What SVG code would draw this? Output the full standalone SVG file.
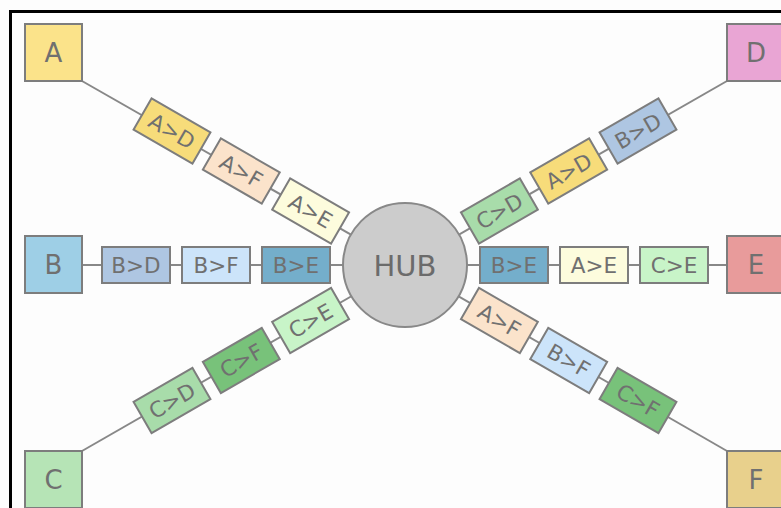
<svg xmlns="http://www.w3.org/2000/svg" width="781" height="508" viewBox="0 0 781 508">
  <defs>
    <style>
      .box { stroke: #7d7d7d; stroke-width: 2; }
      .wire { stroke: #888888; stroke-width: 2; fill: none; }
      .lbl { font-family: "DejaVu Sans", "Liberation Sans", sans-serif; font-size: 21.5px; fill: #707070; text-anchor: middle; }
      .big { font-family: "DejaVu Sans", "Liberation Sans", sans-serif; font-size: 26px; fill: #707070; text-anchor: middle; }
      .hub { font-family: "DejaVu Sans", "Liberation Sans", sans-serif; font-size: 29px; fill: #6b6b6b; text-anchor: middle; }
    </style>
  </defs>

  <!-- page background and frame -->
  <rect x="0" y="0" width="781" height="508" fill="#fdfdfd"/>
  <rect x="9" y="10" width="772" height="3" fill="#000"/>
  <rect x="9" y="10" width="3" height="498" fill="#000"/>

  <!-- spokes from the end stations to the hub -->
  <g id="connectors">
    <line class="wire" x1="82" y1="81" x2="405" y2="265.5"/>
    <line class="wire" x1="727" y1="81" x2="405" y2="265.5"/>
    <line class="wire" x1="82" y1="451" x2="405" y2="265.5"/>
    <line class="wire" x1="727" y1="451" x2="405" y2="265.5"/>
    <line class="wire" x1="82" y1="265" x2="405" y2="265"/>
    <line class="wire" x1="727" y1="265" x2="405" y2="265"/>
  </g>

  <!-- hub -->
  <g id="hub">
    <circle cx="405" cy="265" r="62" fill="#cccccc" stroke="#888888" stroke-width="2"/>
    <text class="hub" x="405" y="275.5">HUB</text>
  </g>

  <!-- end stations -->
  <g id="node-A">
    <rect class="box" x="25" y="24" width="57" height="57" fill="#fbe38a"/>
    <text class="big" x="53.5" y="62">A</text>
  </g>
  <g id="node-B">
    <rect class="box" x="25" y="236" width="57" height="57" fill="#9ecfe6"/>
    <text class="big" x="53.5" y="274">B</text>
  </g>
  <g id="node-C">
    <rect class="box" x="25" y="451" width="57" height="57" fill="#b6e4b6"/>
    <text class="big" x="53.5" y="489">C</text>
  </g>
  <g id="node-D">
    <rect class="box" x="727" y="24" width="57" height="57" fill="#e9a5d4"/>
    <text class="big" x="756" y="62">D</text>
  </g>
  <g id="node-E">
    <rect class="box" x="727" y="236" width="57" height="57" fill="#e89b9b"/>
    <text class="big" x="756" y="274">E</text>
  </g>
  <g id="node-F">
    <rect class="box" x="727" y="451" width="57" height="57" fill="#e8d08c"/>
    <text class="big" x="756" y="489">F</text>
  </g>

  <!-- left horizontal spoke -->
  <g id="B-D-left">
    <rect class="box" x="102" y="247" width="68" height="36" fill="#aec6e2"/>
    <text class="lbl" x="136" y="272.8">B&gt;D</text>
  </g>
  <g id="B-F-left">
    <rect class="box" x="182" y="247" width="68" height="36" fill="#cce4fa"/>
    <text class="lbl" x="216" y="272.8">B&gt;F</text>
  </g>
  <g id="B-E-left">
    <rect class="box" x="262" y="247" width="68" height="36" fill="#74aecb"/>
    <text class="lbl" x="296" y="272.8">B&gt;E</text>
  </g>

  <!-- right horizontal spoke -->
  <g id="B-E-right">
    <rect class="box" x="480" y="247" width="68" height="36" fill="#74aecb"/>
    <text class="lbl" x="514" y="272.8">B&gt;E</text>
  </g>
  <g id="A-E-right">
    <rect class="box" x="560" y="247" width="68" height="36" fill="#fdfcdd"/>
    <text class="lbl" x="594" y="272.8">A&gt;E</text>
  </g>
  <g id="C-E-right">
    <rect class="box" x="640" y="247" width="68" height="36" fill="#c8f4c8"/>
    <text class="lbl" x="674" y="272.8">C&gt;E</text>
  </g>

  <!-- upper-left spoke (from A) -->
  <g id="A-D-upper-left" transform="translate(172 131) rotate(30)">
    <rect class="box" x="-34" y="-18" width="68" height="36" fill="#f7dc7a"/>
    <text class="lbl" x="0" y="7.8">A&gt;D</text>
  </g>
  <g id="A-F-upper-left" transform="translate(241.3 171) rotate(30)">
    <rect class="box" x="-34" y="-18" width="68" height="36" fill="#fbe3cb"/>
    <text class="lbl" x="0" y="7.8">A&gt;F</text>
  </g>
  <g id="A-E-upper-left" transform="translate(310.6 211) rotate(30)">
    <rect class="box" x="-34" y="-18" width="68" height="36" fill="#fdfcdd"/>
    <text class="lbl" x="0" y="7.8">A&gt;E</text>
  </g>

  <!-- upper-right spoke (towards D) -->
  <g id="C-D-upper-right" transform="translate(499.4 211) rotate(-30)">
    <rect class="box" x="-34" y="-18" width="68" height="36" fill="#a8dcaa"/>
    <text class="lbl" x="0" y="7.8">C&gt;D</text>
  </g>
  <g id="A-D-upper-right" transform="translate(568.7 171) rotate(-30)">
    <rect class="box" x="-34" y="-18" width="68" height="36" fill="#f7dc7a"/>
    <text class="lbl" x="0" y="7.8">A&gt;D</text>
  </g>
  <g id="B-D-upper-right" transform="translate(638 131) rotate(-30)">
    <rect class="box" x="-34" y="-18" width="68" height="36" fill="#aec6e2"/>
    <text class="lbl" x="0" y="7.8">B&gt;D</text>
  </g>

  <!-- lower-left spoke (from C) -->
  <g id="C-D-lower-left" transform="translate(172 400.5) rotate(-30)">
    <rect class="box" x="-34" y="-18" width="68" height="36" fill="#a8dcaa"/>
    <text class="lbl" x="0" y="7.8">C&gt;D</text>
  </g>
  <g id="C-F-lower-left" transform="translate(241.3 360.5) rotate(-30)">
    <rect class="box" x="-34" y="-18" width="68" height="36" fill="#78c27a"/>
    <text class="lbl" x="0" y="7.8">C&gt;F</text>
  </g>
  <g id="C-E-lower-left" transform="translate(310.6 320.5) rotate(-30)">
    <rect class="box" x="-34" y="-18" width="68" height="36" fill="#c8f4c8"/>
    <text class="lbl" x="0" y="7.8">C&gt;E</text>
  </g>

  <!-- lower-right spoke (towards F) -->
  <g id="A-F-lower-right" transform="translate(499.4 320.5) rotate(30)">
    <rect class="box" x="-34" y="-18" width="68" height="36" fill="#fbe3cb"/>
    <text class="lbl" x="0" y="7.8">A&gt;F</text>
  </g>
  <g id="B-F-lower-right" transform="translate(568.7 360.5) rotate(30)">
    <rect class="box" x="-34" y="-18" width="68" height="36" fill="#cce4fa"/>
    <text class="lbl" x="0" y="7.8">B&gt;F</text>
  </g>
  <g id="C-F-lower-right" transform="translate(638 400.5) rotate(30)">
    <rect class="box" x="-34" y="-18" width="68" height="36" fill="#78c27a"/>
    <text class="lbl" x="0" y="7.8">C&gt;F</text>
  </g>
</svg>
